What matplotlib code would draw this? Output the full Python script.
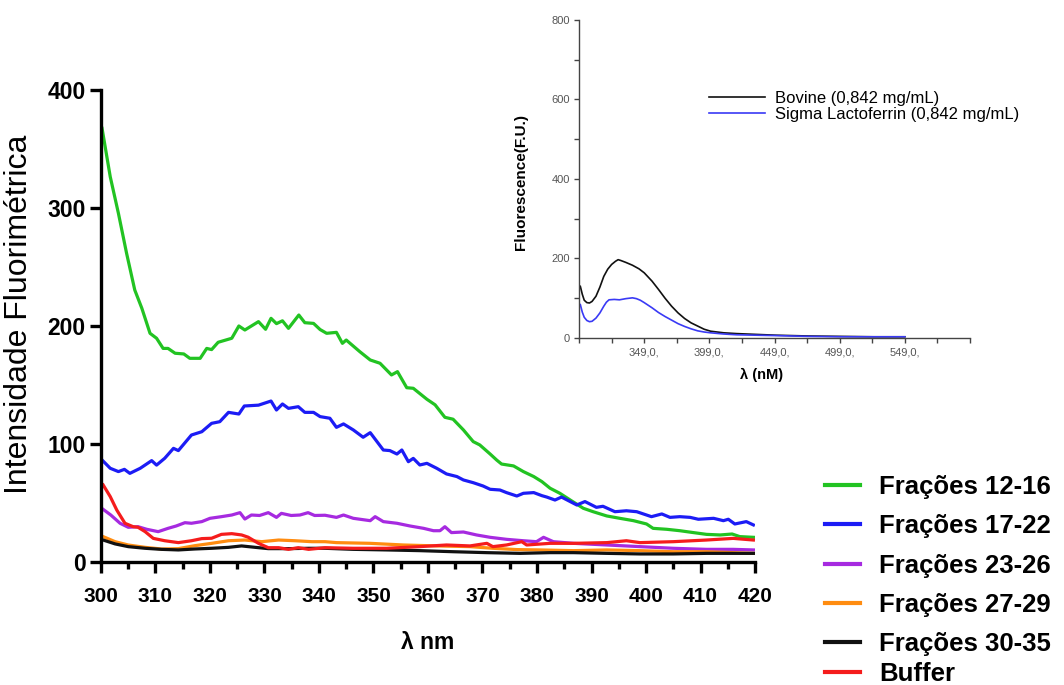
import matplotlib
matplotlib.use("Agg")
import matplotlib.pyplot as plt
from matplotlib.ticker import MultipleLocator, FixedLocator, NullFormatter

plt.rcParams['font.family'] = ['Liberation Sans', 'DejaVu Sans']

# ---- main spectra (wavelength nm, intensity) ----
green_x = [300.2, 301.7, 303.2, 304.7, 306.2, 307.5, 309.0, 310.2, 311.4, 312.3, 313.6, 315.2, 316.3, 318.2,
           319.4, 320.3, 321.5, 324.0, 325.3, 326.4, 328.9, 330.2, 331.2, 332.2, 333.3, 334.4, 336.3, 337.4,
           339.0, 340.2, 341.4, 343.2, 344.3, 345.0, 347.5, 349.4, 351.2, 353.3, 354.4, 356.1, 357.3, 359.8,
           361.3, 363.1, 364.6, 366.5, 368.3, 369.5, 371.4, 372.6, 373.5, 375.7, 377.5, 379.4, 380.9, 382.4,
           384.2, 386.1, 388.5, 390.3, 392.8, 395.2, 397.7, 400.1, 401.3, 403.8, 406.2, 408.7, 411.1, 413.6,
           415.8, 417.2, 419.7]
green_y = [367.5, 326.5, 295.5, 261.6, 230.5, 215.0, 193.8, 189.6, 181.0, 181.0, 176.9, 176.3, 172.6, 172.6,
           181.0, 180.0, 186.2, 189.6, 200.0, 196.6, 203.7, 197.2, 206.5, 202.0, 204.4, 198.0, 209.3, 202.8,
           202.2, 197.0, 193.8, 194.6, 185.3, 188.1, 178.2, 171.2, 168.4, 158.5, 161.3, 147.7, 147.2, 137.9,
           133.2, 122.6, 121.0, 111.9, 102.0, 99.2, 91.5, 86.4, 83.0, 81.4, 76.6, 72.4, 68.1, 62.5,
           58.2, 52.5, 45.5, 42.6, 39.0, 37.0, 35.0, 32.2, 28.5, 27.7, 26.5, 24.9, 23.4, 22.9,
           23.7, 21.5, 20.9]

blue_x = [300.2, 301.7, 303.2, 304.3, 305.3, 307.2, 309.3, 310.2, 311.7, 313.3, 314.2, 316.6, 318.5, 320.3,
          321.8, 323.4, 325.3, 326.3, 328.9, 331.2, 332.2, 333.3, 334.4, 336.2, 337.4, 339.0, 340.2, 342.0,
          343.2, 344.5, 346.3, 348.1, 349.4, 351.8, 353.0, 354.3, 355.2, 356.4, 357.3, 358.5, 359.8, 361.6,
          363.4, 365.3, 366.5, 368.3, 370.1, 371.4, 373.2, 374.4, 376.3, 377.5, 379.4, 380.9, 381.8, 383.3,
          384.5, 387.3, 388.8, 390.9, 392.1, 394.3, 396.4, 398.3, 401.0, 402.9, 404.4, 406.2, 408.1, 409.6,
          412.4, 414.2, 415.1, 416.3, 418.4, 419.7]
blue_y = [86.4, 79.4, 76.6, 78.5, 75.1, 79.4, 85.9, 82.1, 87.9, 96.3, 94.4, 107.6, 110.4, 117.5,
          118.9, 126.8, 125.4, 132.2, 132.9, 136.4, 128.8, 133.9, 130.2, 131.6, 126.8, 126.8, 123.2, 121.8,
          114.1, 117.0, 111.9, 105.7, 109.6, 94.9, 94.4, 91.5, 94.9, 85.0, 87.8, 82.2, 83.6, 79.4,
          74.6, 72.4, 69.5, 67.2, 64.4, 61.6, 61.0, 58.8, 55.9, 58.2, 58.8, 56.2, 55.0, 52.5,
          55.0, 48.3, 51.2, 46.3, 47.2, 42.6, 43.4, 42.6, 38.4, 40.7, 37.8, 38.4, 37.8, 36.2,
          37.0, 35.0, 36.2, 32.2, 34.2, 31.4]

purple_x = [300.4, 301.8, 303.5, 305.0, 306.8, 308.4, 310.5, 312.3, 313.8, 315.4, 316.6, 318.5, 320.0, 322.1,
            324.0, 325.5, 326.4, 327.6, 329.1, 330.7, 332.2, 333.1, 334.9, 336.5, 338.0, 339.2, 341.1, 343.2,
            344.5, 346.3, 349.4, 350.3, 351.8, 354.3, 356.7, 359.2, 361.0, 362.2, 363.1, 364.3, 366.5, 368.9,
            371.4, 374.4, 377.5, 379.9, 381.2, 383.0, 386.7, 392.8, 398.9, 405.0, 411.1, 416.0, 419.7]
purple_y = [44.6, 39.8, 32.8, 29.4, 29.9, 27.7, 25.7, 28.5, 30.5, 33.3, 32.8, 34.2, 37.0, 38.4,
            39.8, 41.8, 36.4, 39.8, 39.4, 41.8, 37.8, 41.2, 39.4, 39.8, 41.8, 39.4, 39.6, 37.8,
            39.8, 37.0, 35.0, 38.4, 34.2, 32.8, 30.5, 28.5, 26.5, 26.5, 29.9, 24.9, 25.4, 22.9,
            20.9, 19.2, 18.0, 17.2, 20.9, 17.2, 15.8, 14.4, 13.0, 11.6, 10.7, 10.7, 10.2]

orange_x = [300.4, 302.6, 305.0, 308.1, 311.1, 314.2, 317.2, 320.3, 323.4, 326.4, 329.5, 332.6, 335.6, 338.7,
            341.1, 343.2, 349.4, 355.5, 361.6, 367.7, 371.9, 376.3, 380.6, 386.7, 392.8, 398.9, 405.0, 411.1,
            416.0, 419.7]
orange_y = [21.5, 17.2, 14.4, 12.4, 11.0, 11.3, 13.8, 15.8, 18.0, 18.6, 17.2, 18.6, 18.0, 17.2,
            17.2, 16.4, 15.8, 14.4, 13.6, 13.0, 11.6, 10.5, 10.2, 9.6, 10.2, 9.6, 8.7, 8.7,
            7.9, 7.3]

black_x = [300.4, 302.6, 305.0, 308.1, 311.1, 314.2, 317.2, 320.3, 323.4, 325.8, 328.3, 330.7, 334.4, 338.1,
           341.1, 346.3, 352.4, 358.5, 364.6, 370.8, 376.9, 382.4, 386.7, 392.8, 398.9, 405.0, 411.1, 419.7]
black_y = [18.6, 15.3, 13.0, 11.6, 10.7, 10.2, 11.0, 11.6, 12.4, 13.6, 12.4, 11.3, 11.3, 11.6,
           11.6, 10.7, 10.2, 9.6, 8.7, 7.9, 7.3, 7.9, 7.9, 7.3, 6.8, 6.8, 7.3, 7.3]

red_x = [300.4, 301.7, 302.9, 304.4, 305.9, 306.8, 308.1, 309.6, 311.7, 314.2, 316.6, 318.5, 320.3, 322.1,
         324.0, 325.8, 327.0, 328.9, 330.7, 332.6, 334.4, 336.2, 338.1, 341.1, 346.3, 352.4, 358.5, 363.4,
         367.7, 370.8, 371.9, 374.4, 377.2, 378.1, 382.4, 386.7, 392.8, 396.4, 398.9, 405.0, 411.1, 416.0,
         419.7]
red_y = [65.3, 55.4, 44.0, 32.8, 29.9, 29.4, 25.7, 20.0, 18.0, 16.4, 18.0, 19.8, 20.1, 23.4,
         24.0, 22.9, 21.0, 15.8, 12.1, 12.1, 10.7, 12.1, 10.7, 12.1, 11.6, 11.6, 13.0, 14.4,
         13.6, 15.8, 13.0, 14.4, 17.2, 14.4, 15.8, 15.8, 16.4, 18.0, 16.4, 17.2, 18.6, 20.0,
         18.6]

series_labels = ['Frações 12-16', 'Frações 17-22', 'Frações 23-26', 'Frações 27-29', 'Frações 30-35', 'Buffer']
series_colors = ['#22c322', '#1c1cf5', '#a62ae0', '#ff8c10', '#111111', '#f51c1c']

# ---- inset spectra ----
bovine_x = [300, 301.5, 303, 305, 307, 309, 312, 315, 318, 321, 324, 327, 329, 331, 335, 340, 345, 349,
            355, 360, 365, 370, 375, 380, 385, 390, 395, 400, 410, 420, 435, 450, 475, 500, 525, 549]
bovine_y = [130, 110, 95, 89, 88, 92, 105, 128, 155, 173, 185, 193, 197, 195, 190, 183, 174, 164,
            143, 122, 100, 80, 63, 49, 38, 30, 22, 17, 13, 11, 9, 7, 5, 4, 3, 3]
sigma_x = [300, 301.5, 303, 305, 307, 309, 312, 315, 318, 320, 322, 326, 330, 335, 340, 343, 346, 349,
           355, 360, 365, 370, 375, 380, 385, 390, 395, 400, 410, 420, 435, 450, 475, 500, 525, 549]
sigma_y = [84, 65, 52, 44, 41, 42, 50, 63, 80, 90, 96, 97, 96, 99, 101, 99, 95, 89,
           76, 64, 54, 45, 36, 29, 23, 18, 15, 13, 10, 8, 7, 6, 4, 3, 3, 3]
inset_labels = ['Bovine (0,842 mg/mL)', 'Sigma Lactoferrin (0,842 mg/mL)']
inset_xticks = [349, 399, 449, 499, 549]

fig = plt.figure(figsize=(10.64, 6.85), dpi=100)

# ---- main axes ----
ax = fig.add_axes([0.0949, 0.1796, 0.6147, 0.6890])
series = [(green_x, green_y), (blue_x, blue_y), (purple_x, purple_y),
          (orange_x, orange_y), (black_x, black_y), (red_x, red_y)]
handles = []
for (xs, ys), lab, col in zip(series, series_labels, series_colors):
    h, = ax.plot(xs, ys, color=col, lw=2.3, label=lab, solid_joinstyle='round')
    handles.append(h)

ax.set_xlim(300, 420)
ax.set_ylim(0, 400)
ax.xaxis.set_major_locator(MultipleLocator(10))
ax.xaxis.set_minor_locator(MultipleLocator(5))
ax.yaxis.set_major_locator(MultipleLocator(100))
for s in ['top', 'right']:
    ax.spines[s].set_visible(False)
for s in ['left', 'bottom']:
    ax.spines[s].set_linewidth(2.4)
ax.tick_params(axis='both', which='major', length=8, width=2.4, direction='out')
ax.tick_params(axis='x', which='minor', length=5, width=2.4, direction='out')
ax.tick_params(axis='x', which='major', pad=10)
ax.tick_params(axis='y', which='major', pad=3)
for t in ax.get_xticklabels():
    t.set_fontsize(15)
    t.set_fontweight('bold')
for t in ax.get_yticklabels():
    t.set_fontsize(16.5)
    t.set_fontweight('bold')

ax.set_xlabel('λ nm', fontsize=16.5, fontweight='bold', labelpad=18)
ax.set_ylabel('Intensidade Fluorimétrica', fontsize=23)
ax.yaxis.set_label_coords(-0.102, 0.525)

# legend: five fraction entries, then the buffer entry set slightly closer
leg_kw = dict(loc='upper left', frameon=False, prop={'size': 18.5, 'weight': 'bold'},
              handlelength=1.35, handletextpad=0.75, borderpad=0)
leg1 = ax.legend(handles[:5], series_labels[:5], bbox_to_anchor=(1.088, 0.212),
                 labelspacing=0.6, **leg_kw)
leg2 = ax.legend(handles[5:], series_labels[5:], bbox_to_anchor=(1.088, -0.184), **leg_kw)
ax.add_artist(leg1)
for lg in (leg1, leg2):
    for h in lg.get_lines():
        h.set_linewidth(3)

# ---- inset axes ----
ins = fig.add_axes([0.5442, 0.5066, 0.3675, 0.4642])
ins.plot(bovine_x, bovine_y, color='#111111', lw=1.2, label=inset_labels[0])
ins.plot(sigma_x, sigma_y, color='#3a3af5', lw=1.2, label=inset_labels[1])
ins.set_xlim(299, 599)
ins.set_ylim(0, 800)
ins.xaxis.set_major_locator(FixedLocator(inset_xticks))
ins.set_xticklabels([f'{v},0,' for v in inset_xticks])
ins.xaxis.set_minor_locator(FixedLocator(list(range(299, 600, 25))))
ins.yaxis.set_major_locator(MultipleLocator(200))
ins.yaxis.set_minor_locator(MultipleLocator(100))
ins.yaxis.set_minor_formatter(NullFormatter())
for s in ['top', 'right']:
    ins.spines[s].set_visible(False)
for s in ['left', 'bottom']:
    ins.spines[s].set_linewidth(1.0)
    ins.spines[s].set_color('#444444')
ins.tick_params(axis='both', which='both', length=3.5, width=1.0, color='#444444',
                labelsize=8, labelcolor='#555555', pad=3)
ins.set_xlabel('λ (nM)', fontsize=10.5, fontweight='bold')
ins.xaxis.set_label_coords(0.468, -0.095)
ins.set_ylabel('Fluorescence(F.U.)', fontsize=11, fontweight='bold')
ins.yaxis.set_label_coords(-0.13, 0.49)
ins.patch.set_alpha(0)
ins.legend(loc='upper left', bbox_to_anchor=(0.31, 0.804), frameon=False,
           prop={'size': 12}, handlelength=3.4, handletextpad=0.6, labelspacing=0.1, borderpad=0)

fig.savefig('out.png', dpi=100)
